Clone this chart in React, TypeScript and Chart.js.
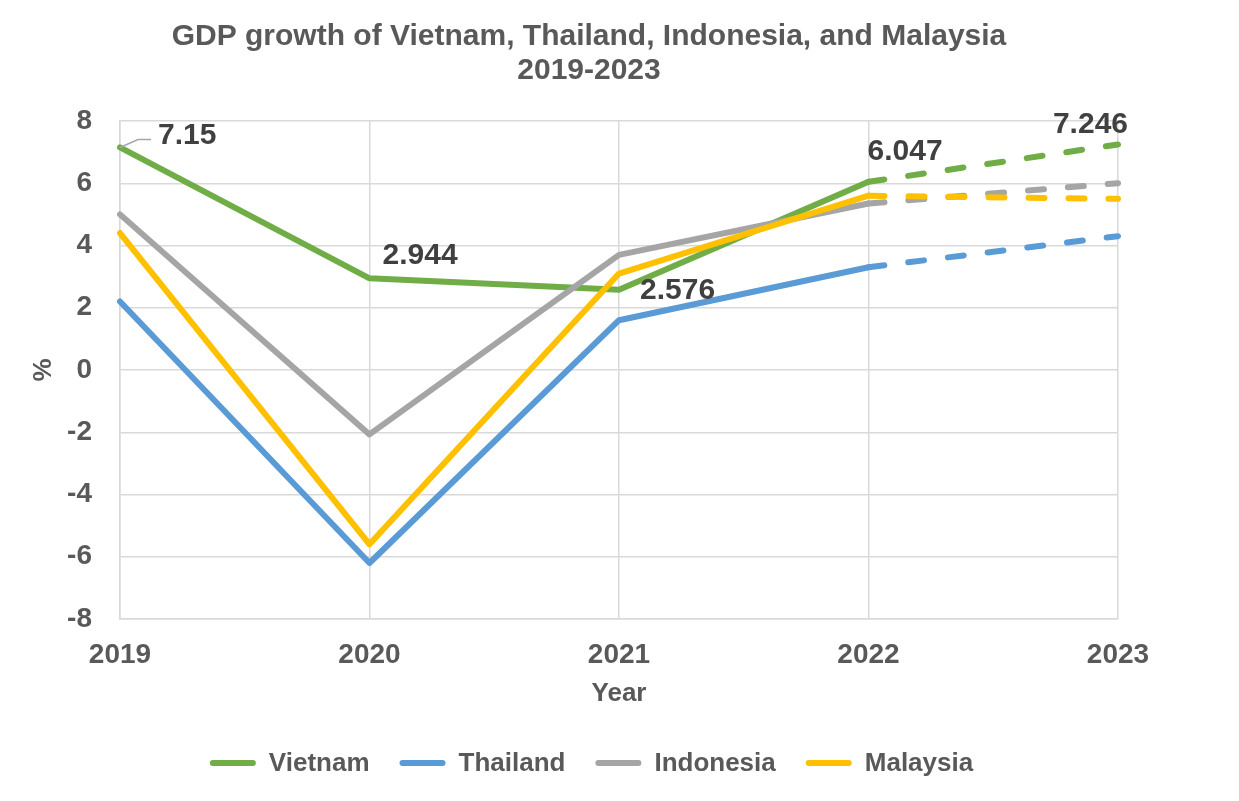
import React, { useEffect, useRef } from "react";
import { Chart, registerables } from "chart.js";

Chart.register(...registerables);

const years = ["2019", "2020", "2021", "2022", "2023"];
const vietnam = [7.15, 2.944, 2.576, 6.047, 7.246];
const thailand = [2.2, -6.2, 1.6, 3.3, 4.3];
const indonesia = [5.0, -2.07, 3.7, 5.35, 6.0];
const malaysia = [4.4, -5.6, 3.1, 5.6, 5.5];
const seriesNames = ["Vietnam", "Thailand", "Indonesia", "Malaysia"];
const seriesColors = ["#70AD47", "#5B9BD5", "#A5A5A5", "#FFC000"];
const titleLines = ["GDP growth of Vietnam, Thailand, Indonesia, and Malaysia", "2019-2023"];
const yTitle = "%";
const xTitle = "Year";

const FONT = "'Liberation Sans', Arial, sans-serif";
const TEXT = "#595959";
const LABEL = "#404040";
const GRID = "#d9d9d9";

// label placement offsets for the Vietnam data labels (style only)
const labelOffsets = [
  { dx: 38, dy: -12, align: "left" as CanvasTextAlign },
  { dx: 13, dy: -23, align: "left" as CanvasTextAlign },
  { dx: 21, dy: 1, align: "left" as CanvasTextAlign },
  { dx: -1, dy: -30, align: "left" as CanvasTextAlign },
  { dx: 10, dy: -20, align: "right" as CanvasTextAlign },
];

const titlePlugin = {
  id: "customTitle",
  afterDraw(chart: any) {
    const ctx = chart.ctx;
    ctx.save();
    ctx.font = `bold 30px ${FONT}`;
    ctx.fillStyle = TEXT;
    ctx.textAlign = "center";
    ctx.textBaseline = "middle";
    ctx.fillText(titleLines[0], 581, 29);
    ctx.fillText(titleLines[1], 581, 63);
    ctx.restore();
  },
};

const legendPlugin = {
  id: "customLegend",
  afterDraw(chart: any) {
    const ctx = chart.ctx;
    ctx.save();
    ctx.font = `bold 26px ${FONT}`;
    const lineW = 46;
    const gap = 13;
    const between = 30;
    const widths = seriesNames.map((n) => ctx.measureText(n).width);
    const total =
      widths.reduce((a, w) => a + lineW + gap + w, 0) + between * (seriesNames.length - 1);
    let x = 583.5 - total / 2;
    const y = 755;
    seriesNames.forEach((name, i) => {
      ctx.strokeStyle = seriesColors[i];
      ctx.lineWidth = 6;
      ctx.lineCap = "round";
      ctx.beginPath();
      ctx.moveTo(x + 3, y);
      ctx.lineTo(x + lineW - 3, y);
      ctx.stroke();
      ctx.fillStyle = TEXT;
      ctx.textAlign = "left";
      ctx.textBaseline = "middle";
      ctx.fillText(name, x + lineW + gap, y + 1);
      x += lineW + gap + widths[i] + between;
    });
    ctx.restore();
  },
};

const dataLabelPlugin = {
  id: "vnLabels",
  afterDatasetsDraw(chart: any) {
    const ctx = chart.ctx;
    const meta = chart.getDatasetMeta(0);
    ctx.save();
    ctx.font = `bold 30px ${FONT}`;
    ctx.fillStyle = LABEL;
    ctx.textBaseline = "middle";
    meta.data.forEach((pt: any, i: number) => {
      const o = labelOffsets[i];
      if (i === 0) {
        ctx.strokeStyle = "#A6A6A6";
        ctx.lineWidth = 1.5;
        ctx.beginPath();
        ctx.moveTo(pt.x, pt.y);
        ctx.lineTo(pt.x + 18, pt.y - 8);
        ctx.lineTo(pt.x + 31, pt.y - 8);
        ctx.stroke();
      }
      ctx.textAlign = o.align;
      ctx.fillText(String(vietnam[i]), pt.x + o.dx, pt.y + o.dy);
    });
    ctx.restore();
  },
};

export default function App() {
  const ref = useRef<HTMLCanvasElement>(null);
  useEffect(() => {
    if (!ref.current) return;
    const all = [vietnam, thailand, indonesia, malaysia];
    const chart = new Chart(ref.current, {
      type: "line",
      data: {
        labels: years,
        datasets: all.map((d, i) => ({
          label: seriesNames[i],
          data: d,
          borderColor: seriesColors[i],
          backgroundColor: seriesColors[i],
          borderWidth: 6,
          pointRadius: 0,
          pointHoverRadius: 0,
          tension: 0,
          fill: false,
          borderJoinStyle: "round" as const,
          borderCapStyle: "round" as const,
          order: 3 - i,
          segment: {
            borderDash: (c: any) => (c.p0DataIndex >= 3 ? [16, 24] : undefined),
          },
        })),
      },
      options: {
        responsive: false,
        animation: false,
        devicePixelRatio: 1,
        layout: { padding: { top: 113, right: 113, bottom: 74, left: 0 } },
        plugins: {
          legend: { display: false },
          title: { display: false },
          tooltip: { enabled: false },
        },
        scales: {
          x: {
            type: "category",
            offset: false,
            afterFit: (s: any) => {
              s.height = 100;
            },
            grid: { color: GRID, lineWidth: 1.5, drawTicks: false },
            border: { color: GRID, width: 1.5 },
            ticks: {
              padding: 19,
              color: TEXT,
              font: { family: FONT, size: 28, weight: "bold" },
              maxRotation: 0,
            },
            title: {
              display: true,
              text: xTitle,
              color: TEXT,
              font: { family: FONT, size: 26, weight: "bold" },
              padding: { top: 0, bottom: 10 },
            },
          },
          y: {
            min: -8,
            max: 8,
            afterFit: (s: any) => {
              s.width = 112;
            },
            grid: { color: GRID, lineWidth: 1.5, drawTicks: false },
            border: { color: GRID, width: 1.5 },
            ticks: {
              stepSize: 2,
              padding: 28,
              color: TEXT,
              font: { family: FONT, size: 28, weight: "bold" },
            },
            title: {
              display: true,
              text: yTitle,
              color: TEXT,
              font: { family: FONT, size: 26, weight: "bold" },
              padding: { top: 20, bottom: 0 },
            },
          },
        },
      },
      plugins: [titlePlugin, legendPlugin, dataLabelPlugin],
    });
    return () => chart.destroy();
  }, []);
  return <canvas ref={ref} width={1223} height={785} style={{ display: "block" }} />;
}
